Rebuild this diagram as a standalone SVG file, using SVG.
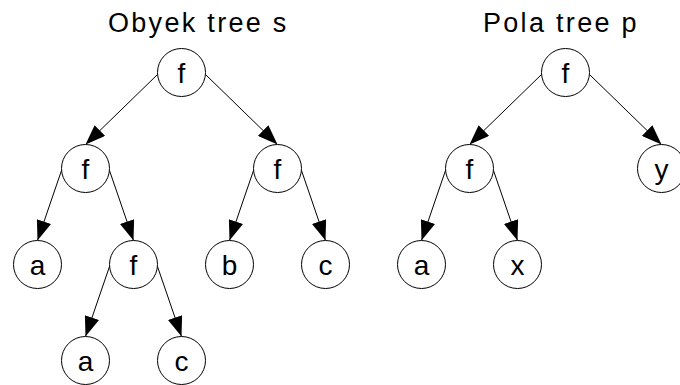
<svg xmlns="http://www.w3.org/2000/svg" width="680" height="385" viewBox="0 0 680 385">
<style>
.node circle{fill:#fff;stroke:#000;stroke-width:1}
.node text{font-family:"Liberation Sans",Arial,sans-serif;font-size:28px;text-anchor:middle;fill:#000}
.title{font-family:"Liberation Sans",Arial,sans-serif;font-size:27px;letter-spacing:2.3px;fill:#000}
.edges line{stroke:#000;stroke-width:1;marker-end:url(#arr)}
</style>
<defs>
<marker id="arr" markerUnits="userSpaceOnUse" markerWidth="20" markerHeight="15" refX="20" refY="7.5" orient="auto">
<path d="M0,0 L20,7.5 L0,15 z" fill="#000"/>
</marker>
</defs>
<rect width="680" height="385" fill="#fff"/>
<text class="title" x="108" y="31.5">Obyek tree s</text>
<text class="title" x="483" y="31.5">Pola tree p</text>
<g class="edges">
<line x1="157.5" y1="74.5" x2="85.5" y2="144.5"/>
<line x1="205.5" y1="74.5" x2="277.5" y2="144.5"/>
<line x1="61.5" y1="170.5" x2="37.5" y2="240.5"/>
<line x1="109.5" y1="170.5" x2="133.5" y2="240.5"/>
<line x1="253.5" y1="170.5" x2="229.5" y2="240.5"/>
<line x1="301.5" y1="170.5" x2="325.5" y2="240.5"/>
<line x1="109.5" y1="266.5" x2="85.5" y2="336.5"/>
<line x1="157.5" y1="266.5" x2="181.5" y2="336.5"/>
<line x1="541.5" y1="74.5" x2="469.5" y2="144.5"/>
<line x1="589.5" y1="74.5" x2="661.5" y2="144.5"/>
<line x1="445.5" y1="170.5" x2="421.5" y2="240.5"/>
<line x1="493.5" y1="170.5" x2="517.5" y2="240.5"/>
</g>
<g id="s-root" class="node"><circle cx="181.5" cy="72.5" r="24"/><text x="181.5" y="82.5">f</text></g>
<g id="s-f1" class="node"><circle cx="85.5" cy="168.5" r="24"/><text x="85.5" y="178.5">f</text></g>
<g id="s-f2" class="node"><circle cx="277.5" cy="168.5" r="24"/><text x="277.5" y="178.5">f</text></g>
<g id="s-a1" class="node"><circle cx="37.5" cy="264.5" r="24"/><text x="37.5" y="274.5">a</text></g>
<g id="s-f3" class="node"><circle cx="133.5" cy="264.5" r="24"/><text x="133.5" y="274.5">f</text></g>
<g id="s-b" class="node"><circle cx="229.5" cy="264.5" r="24"/><text x="229.5" y="274.5">b</text></g>
<g id="s-c1" class="node"><circle cx="325.5" cy="264.5" r="24"/><text x="325.5" y="274.5">c</text></g>
<g id="s-a2" class="node"><circle cx="85.5" cy="360.5" r="24"/><text x="85.5" y="370.5">a</text></g>
<g id="s-c2" class="node"><circle cx="181.5" cy="360.5" r="24"/><text x="181.5" y="370.5">c</text></g>
<g id="p-root" class="node"><circle cx="565.5" cy="72.5" r="24"/><text x="565.5" y="82.5">f</text></g>
<g id="p-f" class="node"><circle cx="469.5" cy="168.5" r="24"/><text x="469.5" y="178.5">f</text></g>
<g id="p-y" class="node"><circle cx="661.5" cy="168.5" r="24"/><text x="661.5" y="178.5">y</text></g>
<g id="p-a" class="node"><circle cx="421.5" cy="264.5" r="24"/><text x="421.5" y="274.5">a</text></g>
<g id="p-x" class="node"><circle cx="517.5" cy="264.5" r="24"/><text x="517.5" y="274.5">x</text></g>
</svg>
